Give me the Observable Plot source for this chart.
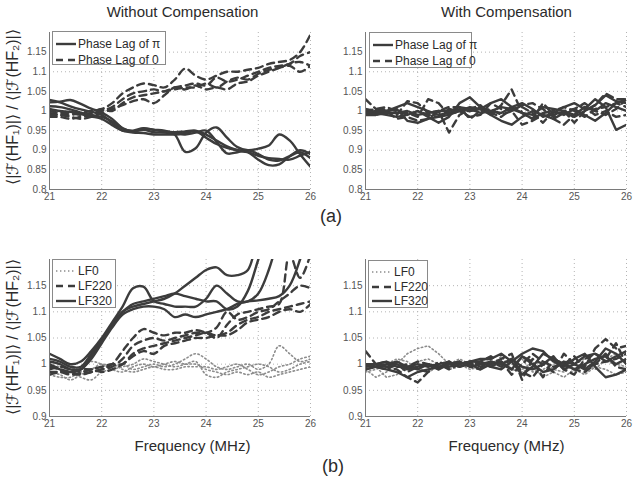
<!DOCTYPE html>
<html><head><meta charset="utf-8">
<script src="https://cdn.jsdelivr.net/npm/d3@7"></script>
<script src="https://cdn.jsdelivr.net/npm/@observablehq/plot@0.6"></script>
<style>
body{margin:0;background:#fff;font-family:"Liberation Sans",Arial,Helvetica,sans-serif;}
#root{position:relative;width:636px;height:485px;overflow:hidden;background:#fff}
.abs{position:absolute}
.ctr{transform:translate(-50%,-50%);white-space:nowrap;color:#2b2b2b}
.ylab{position:absolute;white-space:nowrap;color:#2b2b2b;font-size:15px;transform:translate(-50%,-50%) rotate(-90deg)}
.legend{position:absolute;background:#fff;border:1px solid #8a8a8a;box-sizing:border-box;font-size:12px;color:#2b2b2b}
.legend .row{position:absolute;left:3px;display:flex;align-items:center;height:14px;white-space:nowrap}
.legend svg{display:block;margin-right:1px}
.plotbox{position:absolute}
.plotbox svg{overflow:visible}
</style>
</head><body>
<div id="root"></div>
<script>
// ---------- data ----------
const freq = [21,21.2,21.4,21.6,21.8,22,22.2,22.4,22.6,22.8,23,23.2,23.4,23.6,23.8,24,24.2,24.4,24.6,24.8,25,25.2,25.4,25.6,25.8,26];
const xTicks = [21,22,23,24,25,26];
const yTicksTop = [0.8,0.85,0.9,0.95,1,1.05,1.1,1.15];
const yTicksBottom = [0.9,0.95,1,1.05,1.1,1.15];
const titles = ["Without Compensation","With Compensation"];
const legendTop = ["Phase Lag of \u03c0","Phase Lag of 0"];
const legendBottom = ["LF0","LF220","LF320"];
const xLabel = "Frequency (MHz)";
const yLabel = "\u27e8|\u2131(HF\u2081)|\u27e9 / \u27e8|\u2131(HF\u2082)|\u27e9";

// (a) without compensation, phase lag of pi (solid)
const woPi1 = [1.022,1.024,1.028,1.018,1.006,0.996,0.98,0.956,0.948,0.955,0.952,0.95,0.94,0.896,0.905,0.945,0.958,0.932,0.908,0.9,0.904,0.912,0.94,0.925,0.89,0.858];
const woPi2 = [1.012,1.01,1.004,0.996,0.99,0.985,0.974,0.956,0.948,0.952,0.946,0.945,0.942,0.94,0.945,0.95,0.922,0.892,0.895,0.9,0.89,0.876,0.874,0.885,0.9,0.89];
const woPi3 = [1.028,1.022,1.012,1.004,0.998,0.99,0.97,0.95,0.95,0.956,0.952,0.948,0.946,0.948,0.95,0.94,0.925,0.91,0.9,0.895,0.876,0.862,0.864,0.884,0.895,0.88];
const woPi4 = [1.005,1.0,0.998,0.992,0.986,0.98,0.964,0.95,0.945,0.944,0.94,0.94,0.94,0.944,0.948,0.932,0.916,0.906,0.9,0.895,0.886,0.88,0.878,0.876,0.886,0.896];
// (a) without compensation, phase lag of 0 (dashed)
const wo0_1 = [0.995,0.99,0.99,0.995,1.0,1.005,1.02,1.045,1.06,1.07,1.066,1.06,1.08,1.108,1.09,1.08,1.09,1.1,1.1,1.105,1.11,1.12,1.125,1.13,1.15,1.195];
const wo0_2 = [0.985,0.985,0.98,0.985,0.99,1.0,1.01,1.03,1.045,1.05,1.055,1.05,1.06,1.065,1.07,1.065,1.085,1.075,1.08,1.09,1.1,1.11,1.115,1.12,1.14,1.15];
const wo0_3 = [1.0,0.995,0.995,0.99,0.995,1.005,1.0,1.02,1.035,1.04,1.045,1.05,1.055,1.06,1.06,1.07,1.06,1.075,1.085,1.08,1.095,1.105,1.11,1.115,1.1,1.115];
const wo0_4 = [0.99,0.99,0.985,0.98,0.985,0.995,1.005,1.015,1.025,1.03,1.02,1.04,1.06,1.055,1.065,1.055,1.06,1.055,1.07,1.075,1.09,1.1,1.11,1.12,1.125,1.115];
// (a) with compensation, phase lag of pi (solid)
const wPi1 = [1.0,0.995,0.99,0.985,0.99,1.0,0.985,0.97,0.985,1.02,1.035,1.01,1.0,0.995,1.01,1.02,1.005,0.985,0.995,1.01,1.02,1.005,1.03,1.01,0.952,0.965];
const wPi2 = [0.99,0.995,1.0,1.005,0.975,0.97,0.98,0.985,0.99,1.0,1.01,1.005,0.99,0.975,0.965,0.985,1.0,0.99,0.98,0.995,0.985,1.0,1.015,1.04,1.025,1.02];
const wPi3 = [0.995,1.0,1.0,1.01,1.02,1.01,1.0,0.99,0.995,1.005,1.0,1.005,1.02,1.03,1.01,0.995,0.98,0.995,1.0,0.99,1.005,0.99,0.975,0.995,1.02,1.03];
const wPi4 = [0.99,0.99,0.995,0.995,1.0,0.99,0.995,1.0,1.0,1.01,1.005,0.995,1.0,1.01,1.005,0.995,0.99,1.01,1.005,1.0,0.99,1.01,1.0,1.02,1.01,1.0];
// (a) with compensation, phase lag of 0 (dashed)
const w0_1 = [1.03,1.005,1.0,0.99,1.025,1.02,0.995,1.0,0.945,0.99,1.005,1.015,0.99,1.015,1.055,0.995,0.98,1.02,0.99,1.0,0.97,1.0,1.015,1.045,1.03,1.03];
const w0_2 = [1.0,1.005,1.01,1.0,0.995,0.985,1.03,1.02,0.99,1.0,0.985,0.99,1.02,1.005,1.0,1.015,1.02,1.005,0.985,1.0,1.005,1.02,1.0,0.99,1.005,1.03];
const w0_3 = [0.995,0.99,1.0,0.98,0.985,0.975,0.98,1.0,1.01,1.01,0.98,1.0,1.005,0.99,1.0,0.965,0.975,0.99,0.98,0.965,0.99,1.01,0.99,1.0,0.985,0.99];
const w0_4 = [1.005,1.0,1.005,1.0,0.99,1.0,0.99,0.985,1.005,1.0,1.0,1.01,0.995,0.985,1.005,1.01,0.995,0.97,1.0,1.01,1.0,0.985,1.005,1.01,1.02,1.01];

// (b) without compensation: LF0 (dotted), LF220 (dashed), LF320 (solid)
const woLF0_1 = [0.985,0.98,0.97,0.98,0.99,1.0,0.995,1.0,0.99,0.995,1.0,0.995,1.0,1.01,1.02,1.01,0.995,0.99,0.995,1.0,0.99,1.0,1.035,1.02,1.005,1.01];
const woLF0_2 = [0.995,0.99,0.985,0.975,0.97,0.985,0.99,0.995,1.0,1.01,1.005,1.0,0.995,1.0,1.005,0.98,0.975,0.985,0.99,0.995,1.0,0.995,0.985,0.99,1.0,1.005];
const woLF0_3 = [1.0,0.995,0.99,0.995,1.005,1.0,0.99,0.985,0.995,1.0,0.995,1.0,1.005,1.0,1.0,0.99,0.985,0.98,0.985,0.98,0.985,0.975,0.98,0.985,0.99,0.995];
const woLF0_4 = [0.98,0.975,0.975,0.985,0.99,0.995,1.0,0.99,0.985,0.99,0.995,0.99,0.99,0.995,0.995,0.995,0.99,0.995,1.0,0.99,0.98,0.985,0.995,1.0,1.01,1.015];
const woLF220_1 = [0.995,0.99,0.985,0.98,0.985,0.99,1.0,1.025,1.05,1.067,1.06,1.055,1.06,1.06,1.065,1.06,1.05,1.075,1.095,1.1,1.105,1.11,1.115,1.21,1.165,1.21];
const woLF220_2 = [0.985,0.985,0.98,0.982,0.985,0.99,0.995,1.01,1.035,1.045,1.05,1.045,1.05,1.055,1.06,1.06,1.07,1.1,1.085,1.09,1.1,1.105,1.12,1.135,1.15,1.145];
const woLF220_3 = [0.99,0.995,0.99,0.985,0.99,0.995,1.0,1.0,1.02,1.03,1.035,1.04,1.045,1.05,1.055,1.06,1.055,1.06,1.075,1.085,1.09,1.1,1.105,1.11,1.115,1.12];
const woLF220_4 = [0.98,0.985,0.985,0.99,0.99,0.985,0.99,1.0,1.015,1.025,1.02,1.035,1.04,1.045,1.05,1.05,1.055,1.055,1.065,1.08,1.085,1.09,1.1,1.105,1.1,1.115];
const woLF320_1 = [1.02,1.01,1.0,1.005,1.025,1.05,1.08,1.11,1.145,1.148,1.12,1.115,1.11,1.11,1.11,1.125,1.15,1.135,1.12,1.12,1.135,1.18,1.25,null,null,null];
const woLF320_2 = [1.01,1.005,0.995,0.995,1.02,1.045,1.075,1.1,1.11,1.115,1.12,1.125,1.135,1.15,1.165,1.18,1.185,1.17,1.17,1.18,1.26,null,null,null,null,null];
const woLF320_3 = [1.005,1.0,0.99,0.99,1.015,1.045,1.075,1.1,1.115,1.12,1.125,1.13,1.135,1.13,1.125,1.12,1.12,1.105,1.11,1.14,1.2,1.26,null,null,null,null];
const woLF320_4 = [1.0,0.99,0.985,0.99,1.01,1.04,1.07,1.095,1.105,1.11,1.11,1.105,1.09,1.095,1.09,1.095,1.1,1.105,1.115,1.12,1.122,1.125,1.13,1.15,1.2,1.27];
// (b) with compensation
const wLF0_1 = [0.99,0.975,0.985,1.0,1.02,1.03,1.035,1.02,1.0,1.01,1.0,1.005,1.01,0.995,1.0,0.99,1.0,1.005,0.99,0.985,1.0,1.01,1.02,1.005,1.0,0.995];
const wLF0_2 = [1.0,0.995,0.975,0.98,0.995,1.005,1.01,1.0,0.99,0.995,1.005,1.0,0.995,1.015,0.99,0.985,0.995,0.975,0.985,0.975,0.99,1.0,0.99,1.01,1.02,1.0];
const wLF0_3 = [0.985,0.99,1.0,1.01,1.005,0.99,0.985,0.995,1.0,1.0,0.99,0.995,1.005,1.0,1.005,1.01,0.985,0.99,1.0,1.005,0.99,0.98,0.995,0.99,0.98,0.985];
const wLF220_1 = [1.025,1.0,0.995,0.99,0.975,0.965,0.985,1.0,0.99,1.0,1.005,0.995,1.0,1.01,1.02,0.97,1.01,1.0,0.985,1.02,1.0,0.995,1.03,1.048,1.03,1.035];
const wLF220_2 = [0.995,1.0,1.005,0.995,1.0,0.99,0.985,1.005,0.995,1.0,1.0,1.005,1.015,1.0,0.99,1.015,1.005,0.975,1.01,0.99,0.98,1.01,1.02,1.01,1.04,1.0];
const wLF220_3 = [1.0,0.995,1.0,1.0,0.995,1.005,1.0,0.99,1.005,0.995,1.0,1.0,0.995,1.005,0.98,1.0,1.02,1.005,0.995,1.0,1.015,0.99,1.0,1.005,1.01,1.02];
const wLF220_4 = [0.99,0.995,0.99,1.0,0.985,0.995,1.0,0.995,1.0,1.005,0.995,0.99,1.005,0.995,1.01,0.985,0.975,1.0,1.01,1.0,0.99,0.985,1.0,1.02,0.995,0.99];
const wLF320_1 = [1.0,0.995,0.99,0.985,0.975,0.985,0.99,0.995,1.0,1.0,1.005,1.01,1.01,1.02,1.005,1.02,1.03,1.025,1.005,0.995,1.01,1.02,0.995,0.975,0.98,0.99];
const wLF320_2 = [0.995,1.0,1.005,0.995,0.995,1.0,0.995,1.0,1.005,0.995,1.0,0.99,1.0,1.005,0.99,1.015,1.0,0.985,0.99,1.005,1.0,1.015,1.02,1.005,1.015,1.025];
const wLF320_3 = [0.99,0.995,1.0,1.005,0.995,0.99,1.0,0.995,0.995,1.0,1.005,1.005,0.995,0.99,1.005,0.98,0.995,1.02,1.01,1.0,0.99,1.0,1.01,1.015,1.0,1.01];
const wLF320_4 = [1.0,1.0,0.995,1.0,0.99,0.995,1.0,0.99,1.0,1.005,0.995,1.0,1.005,1.0,1.01,0.995,0.99,1.0,1.015,0.99,1.0,0.99,1.005,1.03,1.02,1.0];

// ---------- styles ----------
const LINE = "#3c3c3c";
const DOT = "#8c8c8c";
const styles = {
  solid: {stroke: LINE, strokeWidth: 2.4},
  dashed: {stroke: LINE, strokeWidth: 2.4, strokeDasharray: "7,5"},
  dotted: {stroke: DOT, strokeWidth: 1.6, strokeDasharray: "1.4,2.6"}
};

const rowsOf = (list, key) => list.flatMap((vals, i) => vals.map((v, j) => ({f: freq[j], v, s: key + i})));
const fmt = d => String(+d.toFixed(2));

function panel(o) {
  const marks = [
    Plot.gridX(xTicks, {stroke: "#b4b4b4", strokeOpacity: 1, strokeDasharray: "1,3"}),
    Plot.gridY(o.yTicks, {stroke: "#b4b4b4", strokeOpacity: 1, strokeDasharray: "1,3"}),
  ];
  for (const g of o.groups) {
    marks.push(Plot.line(rowsOf(g.list, g.kind), {x: "f", y: "v", z: "s", curve: o.curve, clip: true, ...styles[g.kind]}));
  }
  marks.push(
    Plot.ruleX([21], {stroke: "#7a7a7a", strokeWidth: 1}),
    Plot.ruleY([o.yDomain[0]], {stroke: "#7a7a7a", strokeWidth: 1}),
    Plot.axisX(xTicks, {tickSize: 0, tickPadding: 3, label: null, tickFormat: d => String(d)}),
    Plot.axisY(o.yTicks, {tickSize: 0, tickPadding: 3, label: null, tickFormat: fmt})
  );
  return Plot.plot({
    width: o.width, height: o.height,
    marginLeft: o.ml, marginRight: o.mr, marginTop: o.mt, marginBottom: o.mb,
    x: {domain: [21, 26]},
    y: {domain: o.yDomain},
    style: {fontSize: "10px", fontFamily: "Liberation Sans, Arial, sans-serif", color: "#555", background: "transparent", overflow: "visible"},
    marks
  });
}

const root = document.getElementById("root");
function place(el, left, top) {
  const d = document.createElement("div");
  d.className = "plotbox";
  d.style.left = left + "px"; d.style.top = top + "px";
  d.appendChild(el); root.appendChild(d);
}
function text(str, cx, cy, size, cls) {
  const d = document.createElement("div");
  d.className = cls || "abs ctr";
  d.style.left = cx + "px"; d.style.top = cy + "px"; d.style.fontSize = size + "px";
  d.textContent = str; root.appendChild(d);
}
function sample(kind) {
  const st = styles[kind];
  return `<svg width="21" height="14"><line x1="0" x2="20" y1="7" y2="7" stroke="${st.stroke}" stroke-width="${st.strokeWidth}" ${st.strokeDasharray ? `stroke-dasharray="${st.strokeDasharray}"` : ""}/></svg>`;
}
function legend(labels, kinds, left, top, w, h, rowTops) {
  const d = document.createElement("div");
  d.className = "legend";
  Object.assign(d.style, {left: left + "px", top: top + "px", width: w + "px", height: h + "px"});
  d.innerHTML = labels.map((l, i) => `<div class="row" style="top:${rowTops[i]}px">${sample(kinds[i])}<span>${l}</span></div>`).join("");
  root.appendChild(d);
}

// top row
place(panel({width: 318, height: 215, ml: 49, mr: 8, mt: 32, mb: 26, yDomain: [0.8, 1.2], yTicks: yTicksTop, curve: "catmull-rom",
  groups: [{kind: "dashed", list: [wo0_1, wo0_2, wo0_3, wo0_4]}, {kind: "solid", list: [woPi1, woPi2, woPi3, woPi4]}]}), 0, 0);
place(panel({width: 318, height: 215, ml: 47, mr: 10, mt: 32, mb: 26, yDomain: [0.8, 1.2], yTicks: yTicksTop, curve: "linear",
  groups: [{kind: "dashed", list: [w0_1, w0_2, w0_3, w0_4]}, {kind: "solid", list: [wPi1, wPi2, wPi3, wPi4]}]}), 318, 0);
// bottom row
place(panel({width: 318, height: 215, ml: 49, mr: 8, mt: 29, mb: 29, yDomain: [0.9, 1.2], yTicks: yTicksBottom, curve: "catmull-rom",
  groups: [{kind: "dotted", list: [woLF0_1, woLF0_2, woLF0_3, woLF0_4]}, {kind: "dashed", list: [woLF220_1, woLF220_2, woLF220_3, woLF220_4]}, {kind: "solid", list: [woLF320_1, woLF320_2, woLF320_3, woLF320_4]}]}), 0, 230);
place(panel({width: 318, height: 215, ml: 47, mr: 10, mt: 29, mb: 29, yDomain: [0.9, 1.2], yTicks: yTicksBottom, curve: "linear",
  groups: [{kind: "dotted", list: [wLF0_1, wLF0_2, wLF0_3]}, {kind: "dashed", list: [wLF220_1, wLF220_2, wLF220_3, wLF220_4]}, {kind: "solid", list: [wLF320_1, wLF320_2, wLF320_3, wLF320_4]}]}), 318, 230);

// legends
legend(legendTop, ["solid", "dashed"], 52, 31, 114, 34, [5, 21]);
legend(legendTop, ["solid", "dashed"], 369, 32, 103, 36, [5, 21]);
legend(legendBottom, ["dotted", "dashed", "solid"], 52, 259, 64, 49, [4, 19, 34]);
legend(legendBottom, ["dotted", "dashed", "solid"], 368, 260, 60, 48, [4, 19, 33]);

// texts
text(titles[0], 182.5, 11, 15);
text(titles[1], 506.5, 11, 15);
text("(a)", 331, 216, 18);
text("(b)", 333, 466, 18);
text(xLabel, 192.5, 445, 15);
text(xLabel, 506.5, 445, 15);
text(yLabel, 12, 107, 16, "ylab");
text(yLabel, 12, 337, 16, "ylab");
</script>
</body></html>
